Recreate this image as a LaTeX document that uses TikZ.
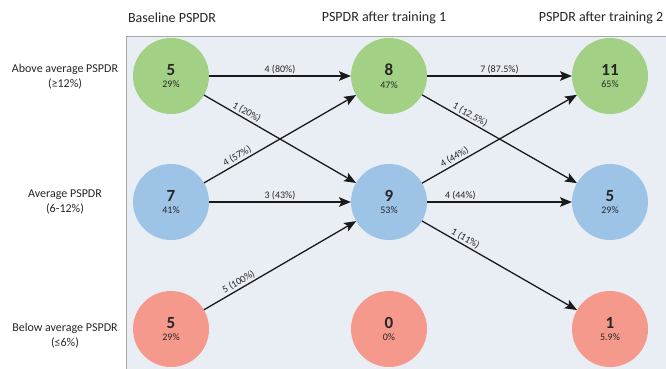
\documentclass[tikz,border=0pt]{standalone}
\usepackage{fontspec}
\setmainfont{Carlito}
\usetikzlibrary{arrows.meta}
\definecolor{panelbg}{HTML}{E9EEF5}
\definecolor{panelline}{HTML}{A6A6A6}
\definecolor{cgreen}{HTML}{A2D185}
\definecolor{cblue}{HTML}{9DC3E6}
\definecolor{cred}{HTML}{F4998B}
\definecolor{txt}{HTML}{262626}
\definecolor{arr}{HTML}{1A1A1A}
\newcommand{\cnum}[2]{{\fontsize{17}{12.9}\selectfont\bfseries #1}\\{#2\%}}
\tikzset{
  state/.style={circle, minimum size=76pt, inner sep=0pt, outer sep=0pt, align=center,
    text=txt, font=\fontsize{10}{12.9}\selectfont},
  coltitle/.style={font=\fontsize{14}{14}\selectfont, text=txt, inner sep=0pt},
  rowtitle/.style={font=\fontsize{12}{15}\selectfont, text=txt, align=center, inner sep=0pt},
  flow/.style={draw=arr, line width=1.3pt, -{Stealth[length=12pt,width=9.5pt,inset=2.5pt]}},
  flab/.style={font=\fontsize{10}{10}\selectfont, text=txt, sloped, above, inner sep=1.5pt}
}
\begin{document}
\begin{tikzpicture}[x=1pt,y=-1pt]
\useasboundingbox (0,0) rectangle (666,369);
\fill[panelbg] (126,36) rectangle (666,369);
\draw[panelline, line width=0.9pt] (126,369) -- (126,36) -- (666,36);

% column titles
\node[coltitle] (t1) at (172,18) {Baseline PSPDR};
\node[coltitle] (t2) at (384,18) {PSPDR after training 1};
\node[coltitle] (t3) at (601,18) {PSPDR after training 2};

% row titles
\node[rowtitle] (r1) at (65,77) {Above average PSPDR\\(≥12\%)};
\node[rowtitle] (r2) at (65,202) {Average PSPDR\\(6-12\%)};
\node[rowtitle] (r3) at (65,336) {Below average PSPDR\\(≤6\%)};

% circles
\node[state, fill=cgreen] (b1) at (171,76) {\cnum{5}{29}};
\node[state, fill=cblue]  (b2) at (171,202) {\cnum{7}{41}};
\node[state, fill=cred]   (b3) at (171,329) {\cnum{5}{29}};
\node[state, fill=cgreen] (a1) at (389,76) {\cnum{8}{47}};
\node[state, fill=cblue]  (a2) at (389,202) {\cnum{9}{53}};
\node[state, fill=cred]   (a3) at (389,329) {\cnum{0}{0}};
\node[state, fill=cgreen] (c1) at (610,76) {\cnum{11}{65}};
\node[state, fill=cblue]  (c2) at (610,202) {\cnum{5}{29}};
\node[state, fill=cred]   (c3) at (610,329) {\cnum{1}{5.9}};

% flows baseline -> training 1
\draw[flow] (b1) -- node[flab, pos=0.5] {4 (80\%)} (a1);
\draw[flow] (b1) -- node[flab, pos=0.26] {1 (20\%)} (a2);
\draw[flow] (b2) -- node[flab, pos=0.24] {4 (57\%)} (a1);
\draw[flow] (b2) -- node[flab, pos=0.5] {3 (43\%)} (a2);
\draw[flow] (b3) -- node[flab, pos=0.25] {5 (100\%)} (a2);

% flows training 1 -> training 2
\draw[flow] (a1) -- node[flab, pos=0.5] {7 (87.5\%)} (c1);
\draw[flow] (a1) -- node[flab, pos=0.29] {1 (12.5\%)} (c2);
\draw[flow] (a2) -- node[flab, pos=0.23] {4 (44\%)} (c1);
\draw[flow] (a2) -- node[flab, pos=0.23] {4 (44\%)} (c2);
\draw[flow] (a2) -- node[flab, pos=0.26] {1 (11\%)} (c3);
\end{tikzpicture}
\end{document}
